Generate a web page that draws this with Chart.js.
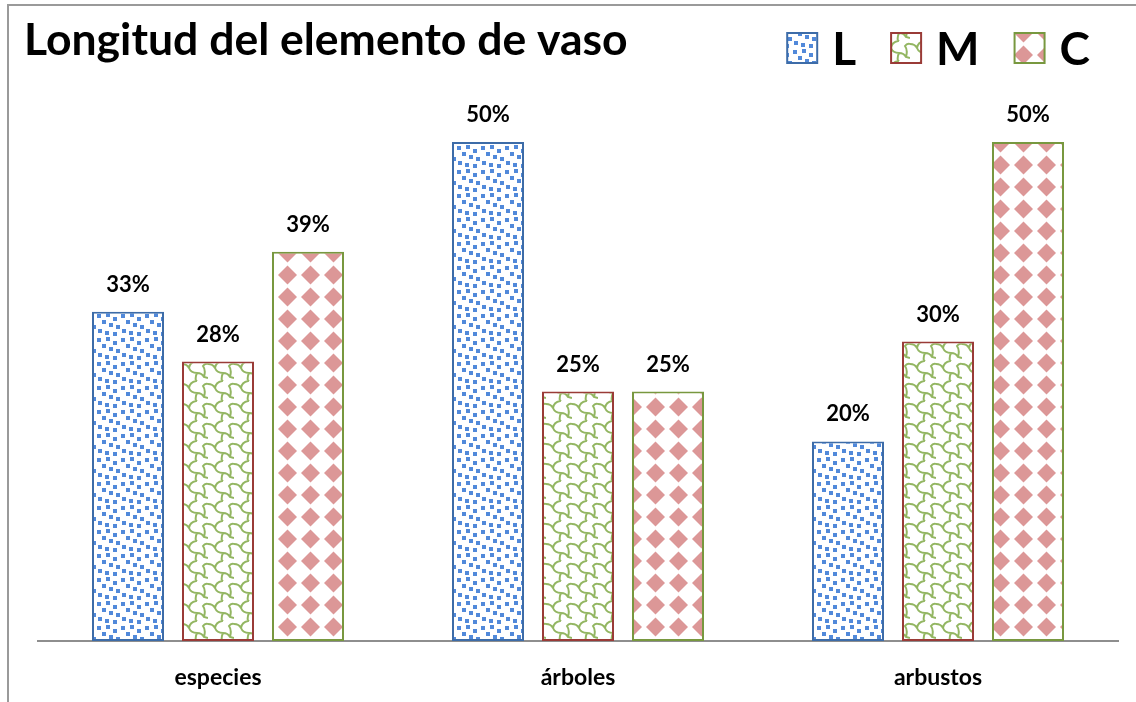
<!DOCTYPE html>
<html>
<head>
<meta charset="utf-8">
<script src="https://cdn.jsdelivr.net/npm/chart.js@4.4.1/dist/chart.umd.min.js"></script>
<style>
  html, body { margin: 0; padding: 0; background: #fff; }
  #wrap { width: 1136px; height: 702px; position: relative; }
</style>
</head>
<body>
<div id="wrap"><canvas id="chart" width="1136" height="702"></canvas></div>
<script>
var titleText = 'Longitud del elemento de vaso';
var categories = ['especies', 'árboles', 'arbustos'];
var seriesNames = ['L', 'M', 'C'];
var valuesL = [33, 50, 20];
var valuesM = [28, 25, 30];
var valuesC = [39, 25, 50];

var FONT = 'Lato, "Open Sans", sans-serif';

function makeTile(w, h, draw) {
    var c = document.createElement('canvas');
    c.width = w;
    c.height = h;
    var g = c.getContext('2d');
    g.fillStyle = '#ffffff';
    g.fillRect(0, 0, w, h);
    draw(g);
    return document.getElementById('chart').getContext('2d').createPattern(c, 'repeat');
}

// blue confetti
var patL = makeTile(24, 24, function (g) {
    g.fillStyle = '#5189da';
    var pts = [[1, 2], [10, 1], [17, 5], [6, 8], [13, 11], [20, 13], [2, 17], [9, 19], [17, 20]];
    pts.forEach(function (p) { g.fillRect(p[0], p[1], 4, 4); });
});

// green shingle
var patM = makeTile(26, 20, function (g) {
    g.strokeStyle = '#93b662';
    g.lineWidth = 2;
    g.beginPath();
    g.moveTo(0, 4);
    g.quadraticCurveTo(5, 4, 7, 8);
    g.quadraticCurveTo(9, 13, 15, 13);
    g.quadraticCurveTo(20, 13, 22, 17);
    g.lineTo(26, 18);
    g.moveTo(7, 8);
    g.quadraticCurveTo(8, 2, 14, 1);
    g.lineTo(15, -1);
    g.moveTo(15, 13);
    g.quadraticCurveTo(13, 17, 14, 21);
    g.moveTo(22, 17);
    g.quadraticCurveTo(24, 10, 21, 6);
    g.quadraticCurveTo(23, 3, 26, 4);
    g.stroke();
});

// pink diamonds
var patC = makeTile(23, 22, function (g) {
    g.fillStyle = '#dc9797';
    g.beginPath();
    g.moveTo(11.5, 1.5);
    g.lineTo(21, 11);
    g.lineTo(11.5, 20.5);
    g.lineTo(2, 11);
    g.closePath();
    g.fill();
});

var fills = [patL, patM, patC];
var borders = ['#3d6ca8', '#9a3b37', '#78983f'];

var frameLines = {
    id: 'frameLines',
    beforeDraw: function (chart) {
        var ctx = chart.ctx;
        ctx.save();
        ctx.strokeStyle = '#9a9a9a';
        ctx.lineWidth = 2;
        ctx.beginPath();
        ctx.moveTo(8, 702);
        ctx.lineTo(8, 5);
        ctx.lineTo(1136, 5);
        ctx.stroke();
        ctx.restore();
    }
};

var headerPlugin = {
    id: 'headerPlugin',
    afterDraw: function (chart) {
        var ctx = chart.ctx;
        ctx.save();
        ctx.fillStyle = '#000';
        ctx.textBaseline = 'alphabetic';
        ctx.textAlign = 'left';
        ctx.font = 'bold 44.5px ' + FONT;
        ctx.fillText(titleText, 24, 55);

        // legend
        ctx.font = 'bold 46px ' + FONT;
        var widths = seriesNames.map(function (s) { return ctx.measureText(s).width; });
        var total = 0;
        widths.forEach(function (w, i) { total += 30 + 15 + w + (i < widths.length - 1 ? 35 : 0); });
        var x = 1090 - total;
        ctx.textBaseline = 'middle';
        chart.data.datasets.forEach(function (ds, i) {
            ctx.fillStyle = ds.backgroundColor;
            ctx.fillRect(x, 33, 30, 30);
            ctx.strokeStyle = ds.borderColor;
            ctx.lineWidth = 2;
            ctx.strokeRect(x, 33, 30, 30);
            ctx.fillStyle = '#000';
            ctx.fillText(ds.label, x + 45, 50);
            x += 30 + 15 + widths[i] + 35;
        });
        ctx.restore();
    }
};

var valueLabels = {
    id: 'valueLabels',
    afterDatasetsDraw: function (chart) {
        var ctx = chart.ctx;
        ctx.save();
        ctx.font = 'bold 22px ' + FONT;
        ctx.fillStyle = '#000';
        ctx.textAlign = 'center';
        ctx.textBaseline = 'middle';
        chart.data.datasets.forEach(function (ds, i) {
            chart.getDatasetMeta(i).data.forEach(function (bar, j) {
                ctx.fillText(ds.data[j] + '%', bar.x, bar.y - 27);
            });
        });
        ctx.restore();
    }
};

var allValues = [valuesL, valuesM, valuesC];

new Chart(document.getElementById('chart'), {
    type: 'bar',
    data: {
        labels: categories,
        datasets: seriesNames.map(function (name, i) {
            return {
                label: name,
                data: allValues[i],
                backgroundColor: fills[i],
                borderColor: borders[i],
                borderWidth: 2,
                borderSkipped: false,
                categoryPercentage: 0.75,
                barPercentage: 0.8
            };
        })
    },
    options: {
        responsive: false,
        animation: false,
        layout: { padding: { left: 38, right: 18, top: 142, bottom: 0 } },
        plugins: {
            legend: { display: false },
            title: { display: false },
            tooltip: { enabled: false }
        },
        scales: {
            x: {
                grid: { display: false, drawTicks: false },
                border: { display: true, color: '#8e8e8e', width: 2 },
                ticks: {
                    color: '#000',
                    padding: 23,
                    font: { family: FONT, size: 23, weight: 'bold' }
                },
                afterFit: function (axis) { axis.height = 61; }
            },
            y: {
                display: false,
                min: 0,
                max: 50
            }
        }
    },
    plugins: [frameLines, valueLabels, headerPlugin]
});
</script>
</body>
</html>
